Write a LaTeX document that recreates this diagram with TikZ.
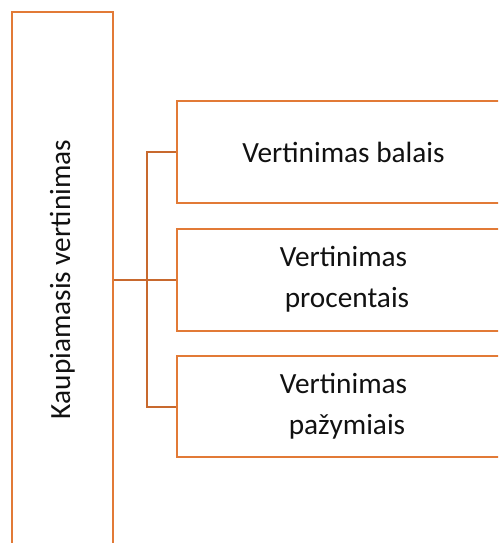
\documentclass[tikz,border=0pt]{standalone}
\usepackage{fontspec}
\setmainfont{Carlito}
\definecolor{boxc}{HTML}{E27A36}
\definecolor{linkc}{HTML}{C8692E}
\definecolor{txt}{HTML}{111111}
\begin{document}
\begin{tikzpicture}[x=1pt,y=-1pt,
  box/.style={draw=boxc,line width=2pt,inner sep=0pt,align=center,text=txt,
    font=\fontsize{29.3}{41}\selectfont},
  link/.style={draw=linkc,line width=2pt}]
\useasboundingbox (0,0) rectangle (498,543);
\clip (0,0) rectangle (498,543);
\node[box,minimum width=100.5pt,minimum height=534pt] (main) at (62.25,279.5)
  {\rotatebox{90}{Kaupiamasis vertinimas}};
\node[box,minimum width=333pt,minimum height=101.7pt] (b1) at (343.5,152.2) {Vertinimas balais};
\node[box,minimum width=333pt,minimum height=102.2pt] (b2) at (343.5,279.6) {Vertinimas\\ \hspace*{7pt}procentais};
\node[box,minimum width=333pt,minimum height=101.3pt] (b3) at (343.5,406.7) {Vertinimas\\ \hspace*{7pt}pažymiais};
\coordinate (bus) at (147,0);
\draw[link] (main.east |- b2.west) -- (b2.west);
\draw[link] (b1.west) -| (bus |- b3.west) -- (b3.west);
\end{tikzpicture}
\end{document}
